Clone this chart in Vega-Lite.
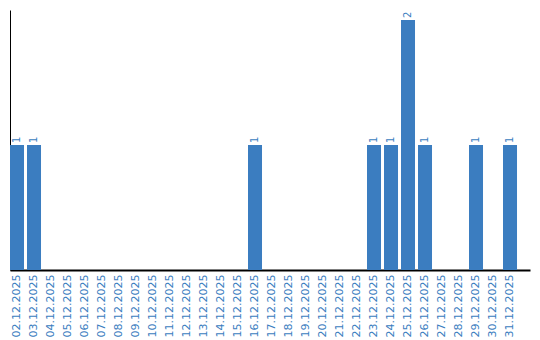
{
  "$schema": "https://vega.github.io/schema/vega-lite/v6.json",
  "width": 520,
  "height": 260,
  "padding": {"left": 10, "top": 10, "right": 5, "bottom": 2},
  "background": "white",
  "config": {"view": {"stroke": null}, "font": "DejaVu Sans"},
  "data": {"values": [
    {"date": "02.12.2025", "count": 1},
    {"date": "03.12.2025", "count": 1},
    {"date": "04.12.2025", "count": 0},
    {"date": "05.12.2025", "count": 0},
    {"date": "06.12.2025", "count": 0},
    {"date": "07.12.2025", "count": 0},
    {"date": "08.12.2025", "count": 0},
    {"date": "09.12.2025", "count": 0},
    {"date": "10.12.2025", "count": 0},
    {"date": "11.12.2025", "count": 0},
    {"date": "12.12.2025", "count": 0},
    {"date": "13.12.2025", "count": 0},
    {"date": "14.12.2025", "count": 0},
    {"date": "15.12.2025", "count": 0},
    {"date": "16.12.2025", "count": 1},
    {"date": "17.12.2025", "count": 0},
    {"date": "18.12.2025", "count": 0},
    {"date": "19.12.2025", "count": 0},
    {"date": "20.12.2025", "count": 0},
    {"date": "21.12.2025", "count": 0},
    {"date": "22.12.2025", "count": 0},
    {"date": "23.12.2025", "count": 1},
    {"date": "24.12.2025", "count": 1},
    {"date": "25.12.2025", "count": 2},
    {"date": "26.12.2025", "count": 1},
    {"date": "27.12.2025", "count": 0},
    {"date": "28.12.2025", "count": 0},
    {"date": "29.12.2025", "count": 1},
    {"date": "30.12.2025", "count": 0},
    {"date": "31.12.2025", "count": 1}
  ]},
  "encoding": {
    "x": {
      "field": "date", "type": "nominal", "sort": null,
      "scale": {"paddingInner": 0.176, "paddingOuter": 0.382, "align": 0},
      "axis": {"title": null, "labelAngle": -90, "ticks": false, "labelPadding": 4, "labelColor": "#3a7dc0", "labelFontSize": 11, "domainColor": "#000000", "domainWidth": 2}
    },
    "y": {
      "field": "count", "type": "quantitative",
      "scale": {"domain": [0, 2.08], "nice": false},
      "axis": {"title": null, "labels": false, "ticks": false, "grid": false, "domainColor": "#000000", "domainWidth": 1}
    }
  },
  "layer": [
    {"mark": {"type": "bar", "color": "#3b7dc0"}},
    {
      "transform": [{"filter": "datum.count > 0"}],
      "mark": {"type": "text", "angle": 270, "align": "left", "baseline": "middle", "dx": 2, "fontSize": 10, "color": "#3a7dc0"},
      "encoding": {"text": {"field": "count", "type": "quantitative"}}
    }
  ]
}
